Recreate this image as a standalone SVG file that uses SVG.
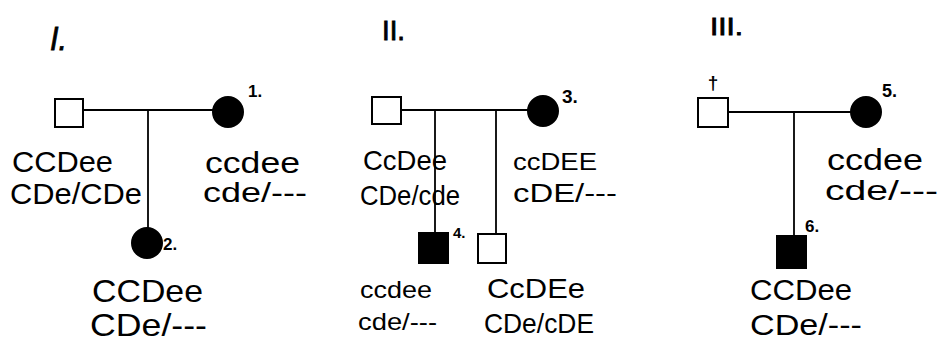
<svg xmlns="http://www.w3.org/2000/svg" width="942" height="348" viewBox="0 0 942 348">
<style>
.bg{fill:#fff}
.sq{fill:#fff;stroke:#000;stroke-width:2}
.aff{fill:#000;stroke:#000;stroke-width:2}
.ln{stroke:#000;stroke-width:1.8;fill:none}
text{font-family:"Liberation Sans",Arial,sans-serif;fill:#000}
.g{font-size:30px}
.n{font-size:17px;font-weight:bold}
.r{font-size:30px;stroke:#000;stroke-width:0.8}
</style>
<rect class="bg" x="0" y="0" width="942" height="348"/>
<g id="titles">
<text class="r" x="50" y="50" textLength="17" lengthAdjust="spacingAndGlyphs" style="font-style:italic;font-size:34px">I.</text>
<text class="r" x="382" y="40" textLength="23" lengthAdjust="spacingAndGlyphs" style="font-size:27px">II.</text>
<text class="r" x="710" y="35" textLength="33" lengthAdjust="spacingAndGlyphs" style="font-size:24px">III.</text>
</g>
<g id="connectors">
<line class="ln" x1="83" y1="110" x2="214" y2="110"/>
<line class="ln" x1="148" y1="110" x2="148" y2="229"/>
<line class="ln" x1="401" y1="110" x2="529" y2="110"/>
<line class="ln" x1="435" y1="110" x2="435" y2="233"/>
<line class="ln" x1="496" y1="110" x2="496" y2="234"/>
<line class="ln" x1="728" y1="112" x2="851" y2="112"/>
<line class="ln" x1="794" y1="112" x2="794" y2="236"/>
</g>
<g id="I-father">
<rect class="sq" x="55" y="99" width="28" height="28"/>
<text class="g" x="12" y="172" textLength="101" lengthAdjust="spacingAndGlyphs">CCDee</text>
<text class="g" x="10" y="204" textLength="132" lengthAdjust="spacingAndGlyphs">CDe/CDe</text>
</g>
<g id="I-mother-1">
<circle class="aff" cx="228" cy="112" r="15"/>
<text class="n" x="248" y="97">1.</text>
<text class="g" x="205" y="173" textLength="95" lengthAdjust="spacingAndGlyphs">ccdee</text>
<text class="g" x="203" y="202" textLength="104" lengthAdjust="spacingAndGlyphs" style="font-size:27px">cde/---</text>
</g>
<g id="I-child-2">
<circle class="aff" cx="147" cy="243" r="15"/>
<text class="n" x="163" y="250">2.</text>
<text class="g" x="92" y="302" textLength="111" lengthAdjust="spacingAndGlyphs" style="font-size:32px">CCDee</text>
<text class="g" x="90" y="336" textLength="117" lengthAdjust="spacingAndGlyphs" style="font-size:32px">CDe/---</text>
</g>
<g id="II-father">
<rect class="sq" x="372" y="97" width="29" height="27"/>
<text class="g" x="363" y="170" textLength="84" lengthAdjust="spacingAndGlyphs" style="font-size:28px">CcDee</text>
<text class="g" x="360" y="205" textLength="100" lengthAdjust="spacingAndGlyphs" style="font-size:28px">CDe/cde</text>
</g>
<g id="II-mother-3">
<circle class="aff" cx="543" cy="111" r="15"/>
<text class="n" x="562" y="103" style="font-size:19px">3.</text>
<text class="g" x="513" y="170" textLength="84" lengthAdjust="spacingAndGlyphs" style="font-size:24px">ccDEE</text>
<text class="g" x="513" y="202" textLength="104" lengthAdjust="spacingAndGlyphs" style="font-size:26px">cDE/---</text>
</g>
<g id="II-child-4">
<rect class="aff" x="419" y="233" width="29" height="30"/>
<text class="n" x="453" y="238" style="font-size:15px">4.</text>
<text class="g" x="360" y="298" textLength="72" lengthAdjust="spacingAndGlyphs" style="font-size:24px">ccdee</text>
<text class="g" x="358" y="330" textLength="79" lengthAdjust="spacingAndGlyphs" style="font-size:24px">cde/---</text>
</g>
<g id="II-child">
<rect class="sq" x="478" y="234" width="28" height="29"/>
<text class="g" x="487" y="298" textLength="98" lengthAdjust="spacingAndGlyphs" style="font-size:28px">CcDEe</text>
<text class="g" x="484" y="333" textLength="110" lengthAdjust="spacingAndGlyphs" style="font-size:28px">CDe/cDE</text>
</g>
<g id="III-father">
<rect class="sq" x="698" y="98" width="30" height="29"/>
<text x="713" y="89" text-anchor="middle" style="font-size:19px;font-weight:bold">†</text>
</g>
<g id="III-mother-5">
<circle class="aff" cx="866" cy="112" r="15"/>
<text class="n" x="882" y="97" style="font-size:18px">5.</text>
<text class="g" x="827" y="170" textLength="96" lengthAdjust="spacingAndGlyphs">ccdee</text>
<text class="g" x="825" y="200" textLength="113" lengthAdjust="spacingAndGlyphs" style="font-size:27px">cde/---</text>
</g>
<g id="III-child-6">
<rect class="aff" x="777" y="236" width="29" height="32"/>
<text class="n" x="805" y="232">6.</text>
<text class="g" x="750" y="300" textLength="102" lengthAdjust="spacingAndGlyphs">CCDee</text>
<text class="g" x="750" y="335" textLength="112" lengthAdjust="spacingAndGlyphs">CDe/---</text>
</g>
</svg>
